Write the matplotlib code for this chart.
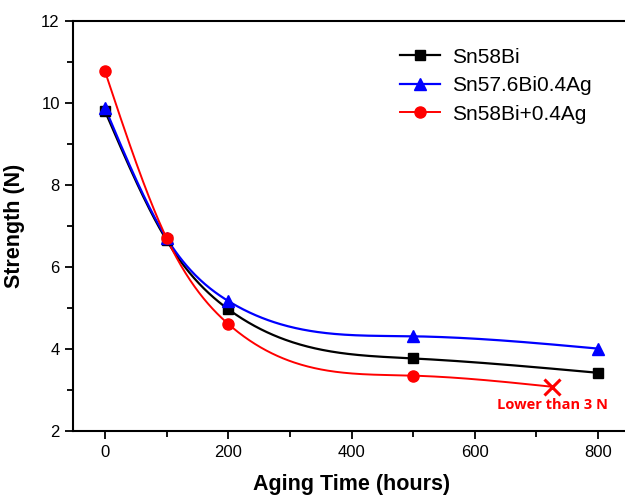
import numpy as np
import matplotlib
matplotlib.use("Agg")
import matplotlib.pyplot as plt

plt.rcParams['font.family'] = ['Liberation Sans', 'DejaVu Sans']

hours = [0, 100, 200, 500, 800]
sn58bi = [9.80, 6.65, 4.97, 3.77, 3.42]
sn576bi_ag = [9.88, 6.70, 5.17, 4.31, 4.01]
hours_red = [0, 100, 200, 500]
sn58bi_ag = [10.77, 6.70, 4.61, 3.35]
fail_hour = 725
fail_val = 3.08


def spline(x, y, xs):
    # natural cubic spline, like Origin's "spline" connect
    x = np.asarray(x, float)
    y = np.asarray(y, float)
    n = len(x)
    h = np.diff(x)
    A = np.zeros((n, n))
    b = np.zeros(n)
    A[0, 0] = A[-1, -1] = 1
    for i in range(1, n - 1):
        A[i, i - 1] = h[i - 1]
        A[i, i] = 2 * (h[i - 1] + h[i])
        A[i, i + 1] = h[i]
        b[i] = 6 * ((y[i + 1] - y[i]) / h[i] - (y[i] - y[i - 1]) / h[i - 1])
    M = np.linalg.solve(A, b)
    k = np.clip(np.searchsorted(x, xs, side='right') - 1, 0, n - 2)
    t0 = x[k + 1] - xs
    t1 = xs - x[k]
    hk = h[k]
    return (M[k] * t0**3 / (6 * hk) + M[k + 1] * t1**3 / (6 * hk)
            + (y[k] / hk - M[k] * hk / 6) * t0 + (y[k + 1] / hk - M[k + 1] * hk / 6) * t1)


fig = plt.figure(figsize=(6.25, 4.95), dpi=100)
ax = fig.add_axes([73 / 625, 1 - 431 / 495, 557 / 625, 410 / 495])

xs = np.linspace(0, 800, 400)
ax.plot(xs, spline(hours, sn58bi, xs), color='black', lw=1.6)
ax.plot(xs, spline(hours, sn576bi_ag, xs), color='blue', lw=1.6)
xr = np.linspace(0, fail_hour, 400)
ax.plot(xr, spline(hours_red + [fail_hour], sn58bi_ag + [fail_val], xr), color='red', lw=1.4)

ax.plot(hours, sn58bi, 's', color='black', ms=6.5)
ax.plot(hours, sn576bi_ag, '^', color='blue', ms=8)
ax.plot(hours_red, sn58bi_ag, 'o', color='red', ms=8)
ax.plot([fail_hour], [fail_val], 'x', color='red', ms=11, mew=2.2)
ax.text(fail_hour + 2, fail_val - 0.28, 'Lower than 3 N', color='red', fontsize=10.5,
        fontweight='bold', family=['Open Sans', 'DejaVu Sans'], ha='center', va='top')

# legend handles
h1, = ax.plot([], [], color='black', lw=1.6, marker='s', ms=6.5)
h2, = ax.plot([], [], color='blue', lw=1.6, marker='^', ms=8)
h3, = ax.plot([], [], color='red', lw=1.4, marker='o', ms=8)
ax.legend([h1, h2, h3], ['Sn58Bi', 'Sn57.6Bi0.4Ag', 'Sn58Bi+0.4Ag'], frameon=False,
          fontsize=15, loc='upper left', bbox_to_anchor=(0.572, 0.955),
          handlelength=1.9, handletextpad=0.6, labelspacing=0.45, borderaxespad=0)

ax.set_xlim(-52, 852)
ax.set_ylim(2, 12)
ax.set_xticks([0, 200, 400, 600, 800])
ax.set_xticks([100, 300, 500, 700], minor=True)
ax.set_yticks([2, 4, 6, 8, 10, 12])
ax.set_yticks([3, 5, 7, 9, 11], minor=True)
ax.tick_params(which='both', direction='out', width=1.3, labelsize=12, top=False, right=False)
ax.tick_params(which='major', length=6)
ax.tick_params(which='minor', length=4)
ax.tick_params(axis='x', pad=4)
for s in ax.spines.values():
    s.set_linewidth(1.5)
ax.spines['right'].set_visible(False)

ax.set_xlabel('Aging Time (hours)', fontsize=15.5, fontweight='bold', labelpad=10)
ax.set_ylabel('Strength (N)', fontsize=15.5, fontweight='bold', labelpad=12)

fig.savefig('out.png', dpi=100)
